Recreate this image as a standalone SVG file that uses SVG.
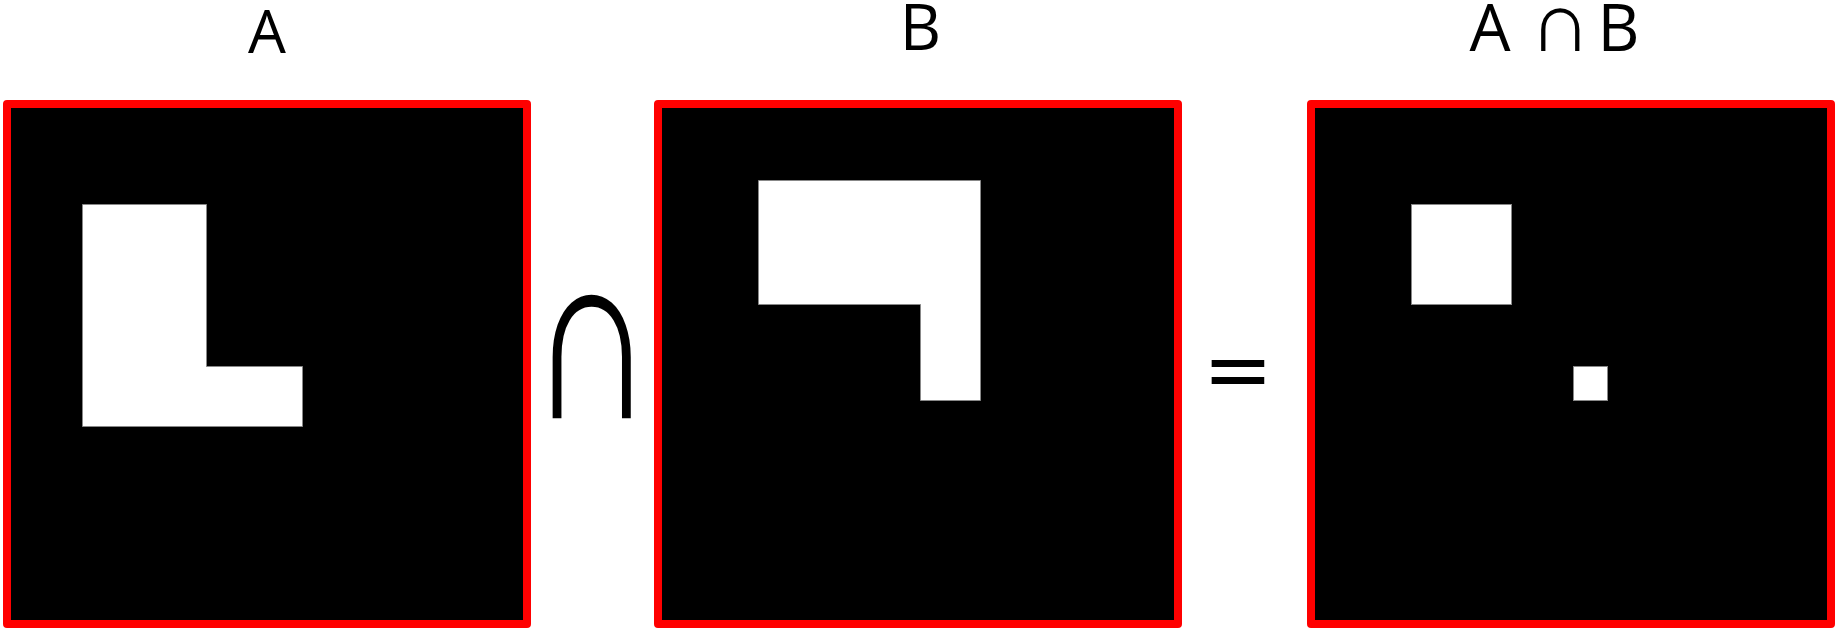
<svg xmlns="http://www.w3.org/2000/svg" width="1835" height="631" viewBox="0 0 1835 631">
<style>
.frame{fill:#000;stroke:#ff0000;stroke-width:8;stroke-linejoin:round}
.shape{fill:#fff;stroke:#888;stroke-width:1}
.lbl{font-family:"Open Sans","DejaVu Sans",sans-serif;fill:#000}
.mid{text-anchor:middle}
.op{font-family:"Liberation Sans","DejaVu Sans",sans-serif;fill:#000}
.eq{font-family:"DejaVu Sans",sans-serif;fill:#000;text-anchor:middle}
</style>
<rect width="1835" height="631" fill="#fff"/>
<g id="panelA">
<rect class="frame" x="7" y="104" width="520" height="520"/>
<path class="shape" d="M82.5 204.5H206.5V366.5H302.5V426.5H82.5Z"/>
<text class="lbl mid" x="267" y="53" font-size="60">A</text>
</g>
<g id="panelB">
<rect class="frame" x="658" y="104" width="520" height="520"/>
<path class="shape" d="M758.5 180.5H980.5V400.5H920.5V304.5H758.5Z"/>
<text class="lbl mid" x="920.5" y="49.5" font-size="64">B</text>
</g>
<g id="panelC">
<rect class="frame" x="1311" y="104" width="520" height="520"/>
<rect class="shape" x="1411.5" y="204.5" width="100" height="100"/>
<rect class="shape" x="1573.5" y="366.5" width="34" height="34"/>
<text class="lbl mid" y="50.5" font-size="65"><tspan x="1490">A</tspan><tspan class="op" x="1560" font-size="85">∩</tspan><tspan x="1618.5">B</tspan></text>
</g>
<g id="operators">
<text class="op mid" transform="translate(592,418) scale(1.03,1.44)" x="0" y="0" font-size="170">∩</text>
<text class="eq" x="1238" y="398" font-size="84">=</text>
</g>
</svg>
